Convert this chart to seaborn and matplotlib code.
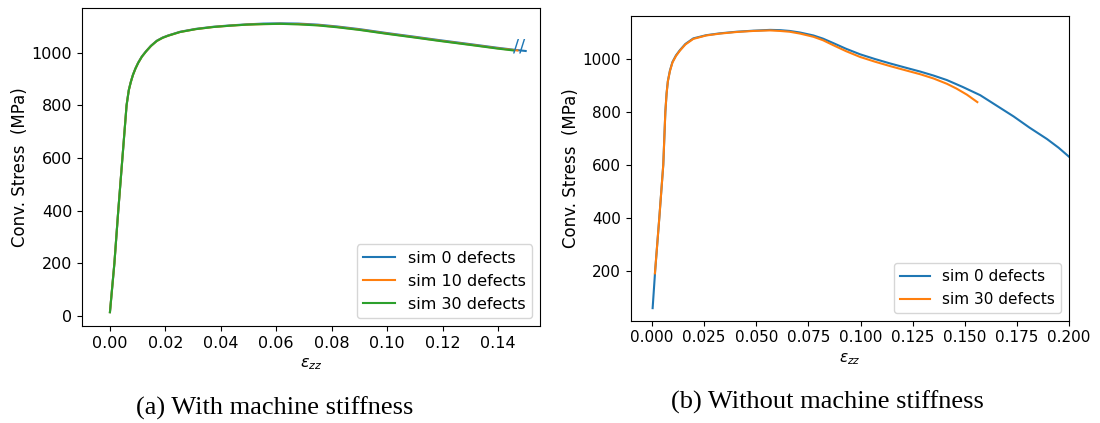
import matplotlib
matplotlib.use("Agg")
import matplotlib.pyplot as plt
import seaborn as sns

# (a) with machine stiffness
strain_a0 = [0.0, 0.0016, 0.003, 0.0045, 0.006, 0.0068, 0.0075, 0.0083, 0.0092, 0.0102, 0.0115,
             0.013, 0.0148, 0.0169, 0.019, 0.021, 0.0253, 0.031, 0.0373, 0.0433, 0.0493, 0.0554,
             0.0614, 0.068, 0.075, 0.082, 0.09, 0.1, 0.11, 0.119, 0.13, 0.14, 0.1456, 0.150]
stress_a0 = [15, 200, 400, 600, 800, 858, 888, 916, 940, 962, 985,
             1005, 1026, 1045, 1057, 1065, 1079, 1090, 1098, 1103, 1107, 1110,
             1111, 1110, 1106, 1099, 1089, 1074, 1060, 1047, 1032, 1018, 1011, 1006]
strain_a10 = [0.0, 0.0016, 0.003, 0.0045, 0.006, 0.0068, 0.0075, 0.0083, 0.0092, 0.0102, 0.0115,
              0.013, 0.0148, 0.0169, 0.019, 0.021, 0.0253, 0.031, 0.0373, 0.0433, 0.0493, 0.0554,
              0.0614, 0.068, 0.075, 0.082, 0.09, 0.1, 0.11, 0.119, 0.13, 0.14, 0.147]
stress_a10 = [15, 200, 400, 600, 800, 857, 887, 915, 939, 961, 984,
              1004, 1025, 1044, 1056, 1064, 1078, 1089, 1097, 1102, 1106, 1108,
              1109, 1108, 1104, 1097, 1087, 1072, 1058, 1045, 1030, 1016, 1008]
strain_a30 = [0.0, 0.0016, 0.003, 0.0045, 0.006, 0.0068, 0.0075, 0.0083, 0.0092, 0.0102, 0.0115,
              0.013, 0.0148, 0.0169, 0.019, 0.021, 0.0253, 0.031, 0.0373, 0.0433, 0.0493, 0.0554,
              0.0614, 0.068, 0.075, 0.082, 0.09, 0.1, 0.11, 0.119, 0.13, 0.14, 0.1456]
stress_a30 = [15, 200, 400, 600, 800, 857, 887, 915, 939, 961, 984,
              1004, 1025, 1044, 1056, 1064, 1078, 1089, 1097, 1102, 1106, 1108,
              1109, 1107, 1103, 1096, 1086, 1071, 1057, 1044, 1029, 1015, 1008]

# (b) without machine stiffness
strain_b0 = [0.0003, 0.0015, 0.0035, 0.0054, 0.0064, 0.007, 0.0076, 0.0086, 0.0098, 0.0115,
             0.0134, 0.016, 0.0198, 0.026, 0.0326, 0.0405, 0.0486, 0.0566, 0.0614, 0.066,
             0.071, 0.0774, 0.082, 0.087, 0.093, 0.0998, 0.107, 0.114, 0.121, 0.1286,
             0.135, 0.1414, 0.149, 0.1574, 0.165, 0.1734, 0.181, 0.1894, 0.195, 0.2,
             0.208, 0.215]
stress_b0 = [60, 200, 400, 600, 800, 870, 915, 955, 987, 1012,
             1032, 1055, 1076, 1088, 1095, 1101, 1105, 1108, 1107, 1104,
             1098, 1087, 1075, 1058, 1037, 1016, 998, 982, 967, 951,
             936, 919, 893, 862, 824, 782, 740, 697, 664, 630,
             575, 520]
strain_b30 = [0.0014, 0.0035, 0.0054, 0.0064, 0.007, 0.0076, 0.0086, 0.0098, 0.0115, 0.0134,
              0.016, 0.0198, 0.026, 0.0326, 0.0405, 0.0486, 0.0566, 0.0614, 0.066, 0.071,
              0.0774, 0.082, 0.087, 0.093, 0.0998, 0.107, 0.114, 0.121, 0.1286, 0.135,
              0.1414, 0.146, 0.151, 0.156]
stress_b30 = [191, 400, 600, 800, 869, 914, 953, 985, 1010, 1030,
              1053, 1074, 1087, 1094, 1100, 1104, 1106, 1104, 1101, 1094,
              1082, 1069, 1050, 1028, 1006, 988, 972, 957, 941, 925,
              905, 887, 864, 836]

fig = plt.figure(figsize=(11, 4.23), dpi=100)
ax1 = fig.add_axes([0.0745, 0.229, 0.4165, 0.752])
ax2 = fig.add_axes([0.5734, 0.242, 0.3985, 0.72])

sns.lineplot(x=strain_a0, y=stress_a0, ax=ax1, sort=False, color="C0", label="sim 0 defects")
sns.lineplot(x=strain_a10, y=stress_a10, ax=ax1, sort=False, color="C1", label="sim 10 defects")
sns.lineplot(x=strain_a30, y=stress_a30, ax=ax1, sort=False, color="C2", label="sim 30 defects")
ax1.text(0.1475, 1022, "//", color="C0", fontsize=13, ha="center", va="center")
ax1.set_xlim(-0.0101, 0.1552)
ax1.set_ylim(-38, 1169)

sns.lineplot(x=strain_b0, y=stress_b0, ax=ax2, sort=False, color="C0", label="sim 0 defects")
sns.lineplot(x=strain_b30, y=stress_b30, ax=ax2, sort=False, color="C1", label="sim 30 defects")
ax2.set_xlim(-0.0102, 0.2)
ax2.set_ylim(13, 1160)

for ax, fs in ((ax1, 11.5), (ax2, 11)):
    ax.set_xlabel(r"$\epsilon_{zz}$", fontsize=fs)
    ax.set_ylabel("Conv. Stress  (MPa)", fontsize=12, labelpad=2)
    ax.tick_params(labelsize=fs)
    ax.legend(loc="lower right", fontsize=fs)

fig.text(0.25, 0.035, "(a) With machine stiffness", family="Liberation Serif",
         fontsize=19, ha="center", va="center")
fig.text(0.752, 0.05, "(b) Without machine stiffness", family="Liberation Serif",
         fontsize=19, ha="center", va="center")

fig.savefig("out.png", dpi=100)
